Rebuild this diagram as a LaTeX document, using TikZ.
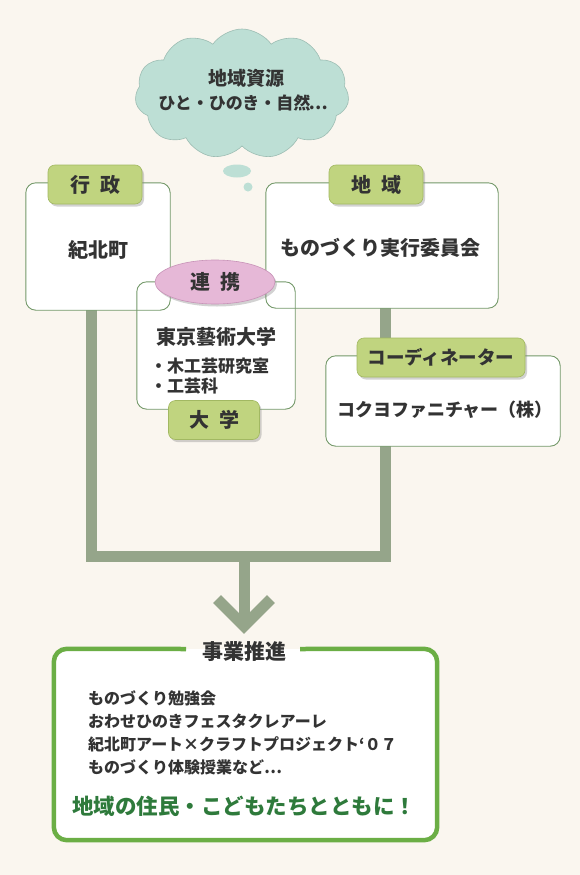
\documentclass[tikz,border=0pt]{standalone}
\usepackage{fontspec}
\setmainfont{Noto Sans CJK JP}
\usepackage{xcolor}
\usepackage{tikz}
\usetikzlibrary{shapes.symbols, shapes.geometric, shadows, backgrounds, positioning}
\definecolor{bgCream}{HTML}{FAF6EF}
\definecolor{boxEdge}{HTML}{74996A}
\definecolor{tabGreen}{HTML}{C0D47F}
\definecolor{tabDark}{HTML}{A2B862}
\definecolor{trunkGray}{HTML}{95A58A}
\definecolor{cloudTeal}{HTML}{BDDFD5}
\definecolor{cloudEdge}{HTML}{9DBDB3}
\definecolor{linkPink}{HTML}{E6B8D7}
\definecolor{linkEdge}{HTML}{C893B8}
\definecolor{mainGreen}{HTML}{6BAE45}
\definecolor{sloganGreen}{HTML}{2E7A3B}
\definecolor{inkGray}{HTML}{333333}

\begin{document}
\begin{tikzpicture}[x=1pt, y=-1pt,
	orgfill/.style={fill=white, draw=none, rounded corners=10pt, inner sep=0pt},
	orgline/.style={draw=boxEdge, line width=0.9pt, rounded corners=10pt},
	tabnode/.style={fill=tabGreen, draw=tabDark, line width=0.6pt, rounded corners=7pt,
		minimum height=39pt, inner sep=0pt, text=inkGray,
		font=\bfseries\fontsize{20}{22}\selectfont,
		drop shadow={shadow xshift=2pt, shadow yshift=-2.5pt, opacity=0.35}},
	trunk/.style={draw=trunkGray, line width=11pt, line join=miter},
	bodytext/.style={text=inkGray, inner sep=0pt, font=\bfseries\fontsize{20}{24}\selectfont},
	smalltext/.style={text=inkGray, inner sep=0pt, font=\bfseries\fontsize{17}{20}\selectfont},
	listtext/.style={text=inkGray, inner sep=0pt, anchor=west, font=\bfseries\fontsize{16}{19}\selectfont}]

	% resources cloud
	\node[cloud, cloud puffs=11, cloud puff arc=110, aspect=1.65, fill=cloudTeal, draw=cloudEdge,
		line width=0.6pt, minimum width=214pt, minimum height=130pt, inner sep=0pt] (resource) at (242,94) {};
	\node[smalltext, font=\bfseries\fontsize{19}{22}\selectfont] (resTitle) at (246,78) {地域資源};
	\node[smalltext] (resBody) at (243,103) {ひと・ひのき・自然\kern-.1em…};
	\fill[cloudTeal] (237,171) ellipse (14 and 6.5);
	\fill[cloudTeal] (248,187) circle (4.5);

	% organisation boxes
	\node[orgfill, minimum width=144pt, minimum height=127pt] (gyosei) at (98,246.5) {};
	\node[orgfill, minimum width=232pt, minimum height=125pt] (chiiki) at (382,245.5) {};
	\node[orgfill, minimum width=158pt, minimum height=127pt] (daigaku) at (216,345.5) {};
	\node[orgfill, minimum width=234pt, minimum height=90pt] (coord) at (443,401) {};
	\foreach \b in {gyosei, chiiki, daigaku, coord}
		\draw[orgline] (\b.north west) rectangle (\b.south east);

	% tabs
	\node[tabnode, minimum width=94pt] (gyoseiTab) at (95,184.5) {行\hspace{.5em}政};
	\node[tabnode, minimum width=94pt] (chiikiTab) at (376,184.5) {地\hspace{.5em}域};
	\node[tabnode, minimum width=91pt] (daigakuTab) at (214,420) {大\hspace{.5em}学};
	\node[tabnode, minimum width=168pt, font=\bfseries\fontsize{18.5}{22}\selectfont] (coordTab) at (441,357.5) {コーディネーター};
	\node[ellipse, fill=linkPink, draw=linkEdge, line width=0.6pt, minimum width=120pt, minimum height=44pt,
		inner sep=0pt, text=inkGray, font=\bfseries\fontsize{20}{22}\selectfont,
		drop shadow={shadow xshift=2pt, shadow yshift=-2.5pt, opacity=0.35}] (renkei) at (215,282) {連\hspace{.5em}携};

	% box texts
	\node[bodytext] (gyoseiText) at (98,250) {紀北町};
	\node[bodytext] (chiikiText) at (380,248) {ものづくり実行委員会};
	\node[bodytext] (daigakuText) at (216,337) {東京藝術大学};
	\node[smalltext, anchor=west] (daigakuA) at (150,366) {・木工芸研究室};
	\node[smalltext, anchor=west] (daigakuB) at (150,386) {・工芸科};
	\node[smalltext, font=\bfseries\fontsize{18}{22}\selectfont] (coordText) at (445,410) {コクヨファニチャー（株）};

	% project box
	\node[fill=white, draw=none, rounded corners=13pt, minimum width=383pt, minimum height=191pt,
		inner sep=0pt] (jigyo) at (245.5,744.5) {};
	\draw[mainGreen, line width=4.5pt, rounded corners=13pt]
		(300,649) -- (jigyo.north east) -- (jigyo.south east) -- (jigyo.south west)
		-- (jigyo.north west) -- (186,649);
	\node[bodytext, font=\bfseries\fontsize{21}{24}\selectfont] (jigyoTitle) at (244,652) {事業推進};
	\node[listtext] (item1) at (88,698) {ものづくり勉強会};
	\node[listtext] (item2) at (88,721) {おわせひのきフェスタクレアーレ};
	\node[listtext] (item3) at (88,744) {紀北町アート×クラフトプロジェクト‘０７};
	\node[listtext] (item4) at (88,767) {ものづくり体験授業など…};
	\node[inner sep=0pt, text=sloganGreen, font=\bfseries\fontsize{21.5}{24}\selectfont] (slogan) at (244,806)
		{地域の住民・こどもたちとともに！};

	% connectors
	\coordinate (jL) at (91,556);
	\coordinate (jR) at (385,556);
	\coordinate (jM) at (244,556);
	\coordinate (tip) at (244,626);
	\begin{scope}[on background layer]
		\fill[bgCream] (0,0) rectangle (580,875);
		\draw[trunk] (gyosei.south -| jL) -- (jL) -- (jR) -- (coord.south -| jR);
		\draw[trunk] (chiiki.south -| jR) -- (coordTab.north -| jR);
		\draw[trunk] (jM) -- (tip);
		\draw[trunk] ([shift={(-27,-27)}]tip) -- (tip) -- ([shift={(27,-27)}]tip);
	\end{scope}
\end{tikzpicture}
\end{document}
